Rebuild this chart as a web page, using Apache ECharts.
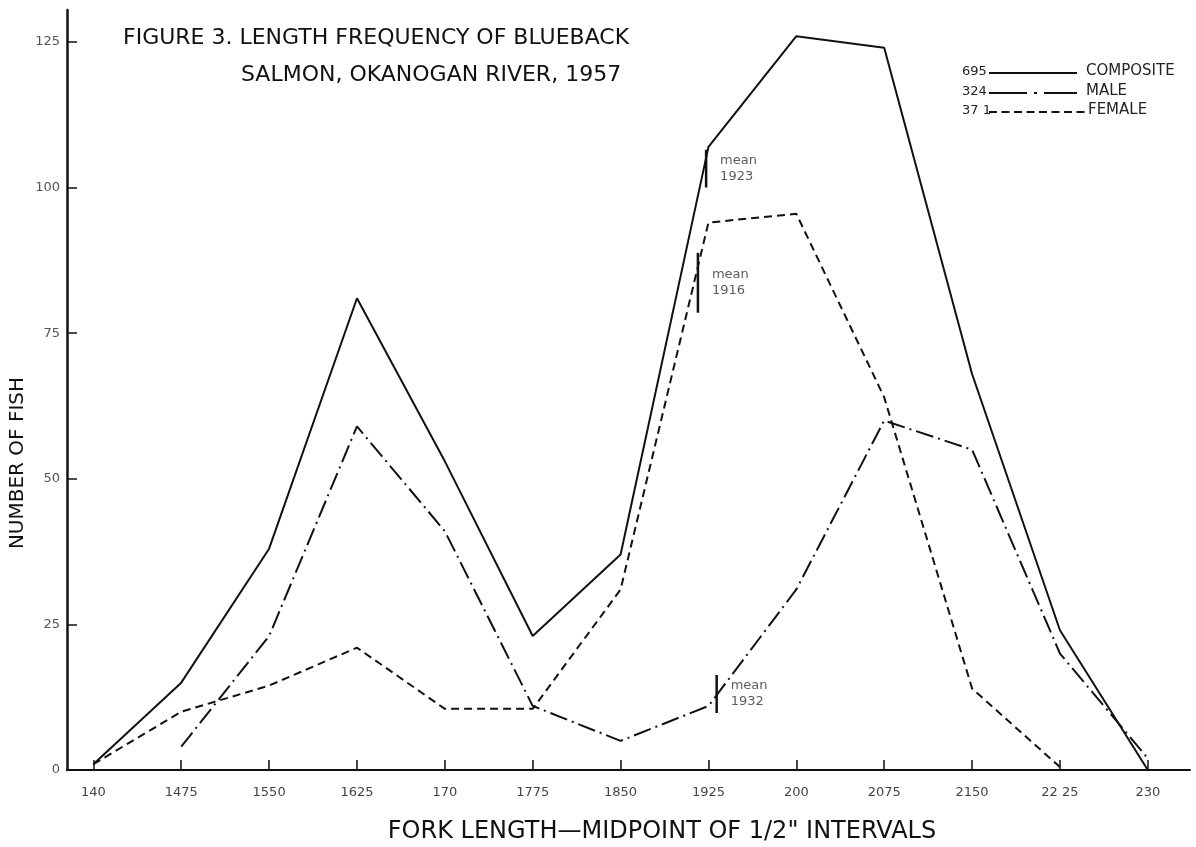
<!DOCTYPE html>
<html><head><meta charset="utf-8">
<script src="https://cdn.jsdelivr.net/npm/echarts@6/dist/echarts.min.js"></script>
<style>html,body{margin:0;padding:0;background:#fff}#c{width:1196px;height:847px}</style>
</head><body><div id="c"></div>
<script>
// x categories: fork length midpoints (as lettered on the original)
const categories = ['140','1475','1550','1625','170','1775','1850','1925','200','2075','2150','22 25','230'];
const composite = [1, 15, 38, 81, 53, 23, 37, 107, 126, 124, 68, 24, 0];
const male      = [null, 4, 23, 59, 41, 11, 5, 11, 31, 60, 55, 20, 2];
const female    = [1, 10, 14.5, 21, 10.5, 10.5, 31, 94, 95.5, 64, 14, 0.5, null];
const yTicks = [0, 25, 50, 75, 100, 125];
// mean markers (length in mm, short vertical marks)
const meanLengths = [192.3, 191.6, 193.2];
const meanLabels  = ['1923', '1916', '1932'];
const meanLow  = [100, 78.5, 9.8];
const meanHigh = [106.5, 88.8, 16.3];
const legendCounts = ['695', '324', '37 1'];
const legendNames  = ['COMPOSITE', 'MALE', 'FEMALE'];

const FONT = 'DejaVu Sans';
const INK = '#111';
const firstLen = 140, step = 7.5;
const toIdx = len => (len - firstLen) / step;
const pairs = arr => arr.map((v, i) => v == null ? null : [i, v]).filter(p => p);
const idxs = categories.map((c, i) => i);

const dashes = { solid: 'solid', male: [18, 5, 2, 5], female: [8, 5] };

const series = [
  { name: legendNames[0], type: 'line', data: pairs(composite), symbol: 'none',
    lineStyle: { color: INK, width: 2, type: dashes.solid }, z: 3 },
  { name: legendNames[1], type: 'line', data: pairs(male), symbol: 'none',
    lineStyle: { color: INK, width: 2, type: dashes.male }, z: 3 },
  { name: legendNames[2], type: 'line', data: pairs(female), symbol: 'none',
    lineStyle: { color: INK, width: 2, type: dashes.female }, z: 3 }
];
meanLengths.forEach((m, k) => {
  const xi = toIdx(m);
  series.push({ type: 'line', data: [[xi, meanLow[k]], [xi, meanHigh[k]]], symbol: 'none',
    lineStyle: { color: INK, width: 2.5 }, z: 4, silent: true });
  series.push({ type: 'scatter', data: [[xi, (meanLow[k] + meanHigh[k]) / 2]], symbolSize: 0,
    silent: true,
    label: { show: true, position: 'right', distance: 14, formatter: 'mean\n' + meanLabels[k],
      fontFamily: FONT, fontSize: 13, color: '#333', lineHeight: 16, align: 'left' } });
});

// legend drawn as graphic (count, line sample, name)
const legendGraphic = [];
const legY = [73, 93, 112];
const legDash = [null, [38, 7, 3, 7], [8, 4.5]];
legendCounts.forEach((c, k) => {
  legendGraphic.push({ type: 'text', left: 962, top: legY[k] - 8,
    style: { text: c, font: '13px ' + FONT, fill: '#222' } });
  legendGraphic.push({ type: 'line', shape: { x1: 989, y1: legY[k], x2: k === 2 ? 1086 : 1077, y2: legY[k] },
    style: { stroke: INK, lineWidth: 1.8, lineDash: legDash[k] } });
  legendGraphic.push({ type: 'text', left: k === 2 ? 1088 : 1086, top: legY[k] - 9,
    style: { text: legendNames[k], font: '15px ' + FONT, fill: '#222' } });
});

const chart = echarts.init(document.getElementById('c'), null, { renderer: 'canvas' });
chart.setOption({
  backgroundColor: '#fff',
  animation: false,
  grid: { left: 67, right: 6, top: 10, bottom: 77, containLabel: false },
  xAxis: {
    type: 'value', min: -0.3, max: 12.48,
    axisLine: { show: true, onZero: false, lineStyle: { color: INK, width: 2 } },
    axisTick: { show: true, inside: true, length: 10, customValues: idxs, lineStyle: { color: INK, width: 1.5 } },
    axisLabel: { show: true, customValues: idxs, formatter: v => categories[Math.round(v)] || '',
      margin: 16, fontFamily: FONT, fontSize: 13, color: '#444' },
    splitLine: { show: false }
  },
  yAxis: {
    type: 'value', min: 0, max: 130.5,
    axisLine: { show: true, onZero: false, lineStyle: { color: INK, width: 2.5 } },
    axisTick: { show: true, inside: true, length: 10, customValues: yTicks, lineStyle: { color: INK, width: 1.5 } },
    axisLabel: { show: true, customValues: yTicks, margin: 7, fontFamily: FONT, fontSize: 13, color: '#555' },
    splitLine: { show: false }
  },
  series: series,
  graphic: [
    { type: 'text', left: 123, top: 27,
      style: { text: 'FIGURE 3. LENGTH FREQUENCY OF BLUEBACK', font: '22px ' + FONT, fill: '#111' } },
    { type: 'text', left: 241, top: 64,
      style: { text: 'SALMON, OKANOGAN RIVER, 1957', font: '22px ' + FONT, fill: '#111' } },
    { type: 'text', x: 18, y: 463, rotation: Math.PI / 2,
      style: { text: 'NUMBER OF FISH', font: '20px ' + FONT, fill: '#111', align: 'center', verticalAlign: 'middle' } },
    { type: 'text', x: 662, y: 832,
      style: { text: 'FORK LENGTH\u2014MIDPOINT OF 1/2" INTERVALS', font: '24px ' + FONT, fill: '#111', align: 'center', verticalAlign: 'middle' } }
  ].concat(legendGraphic)
});
</script></body></html>
